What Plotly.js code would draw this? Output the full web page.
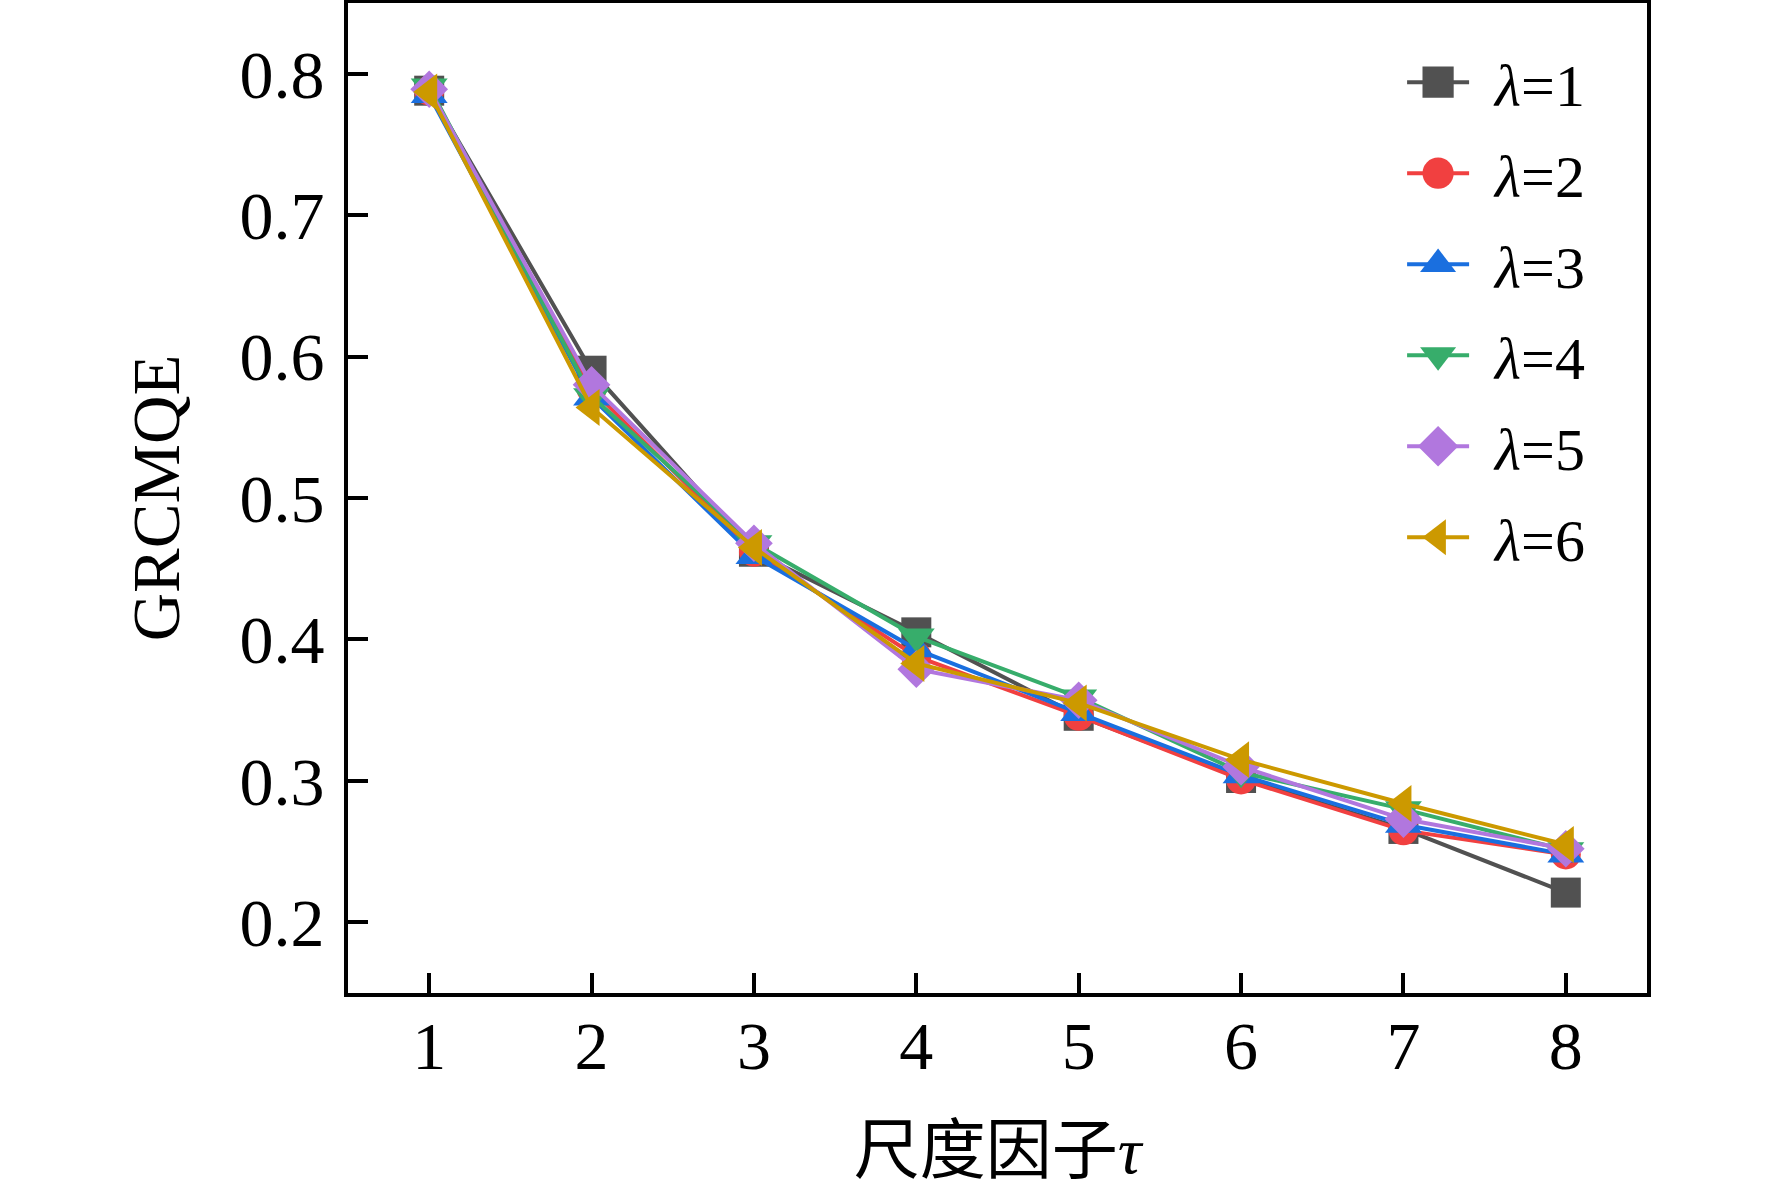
<!DOCTYPE html>
<html>
<head>
<meta charset="utf-8">
<script src="https://cdn.plot.ly/plotly-3.0.1.min.js"></script>
<style>
  html, body { margin: 0; padding: 0; background: #ffffff; }
  #chart { width: 1772px; height: 1187px; }
</style>
</head>
<body>
<div id="chart"></div>
<script>
// scale factor tau on the x axis
const scaleFactors = [1, 2, 3, 4, 5, 6, 7, 8];
const yTicks = [0.2, 0.3, 0.4, 0.5, 0.6, 0.7, 0.8];

// GRCMQE per lambda
const lambda1 = [0.788, 0.590, 0.462, 0.405, 0.346, 0.302, 0.266, 0.221];
const lambda2 = [0.788, 0.577, 0.462, 0.388, 0.346, 0.301, 0.265, 0.248];
const lambda3 = [0.785, 0.571, 0.459, 0.393, 0.348, 0.304, 0.269, 0.248];
const lambda4 = [0.791, 0.572, 0.468, 0.402, 0.359, 0.306, 0.280, 0.251];
const lambda5 = [0.789, 0.580, 0.468, 0.379, 0.357, 0.310, 0.273, 0.252];
const lambda6 = [0.787, 0.564, 0.465, 0.383, 0.355, 0.315, 0.284, 0.255];

const seriesNames = ["<i>λ</i>=1", "<i>λ</i>=2", "<i>λ</i>=3", "<i>λ</i>=4", "<i>λ</i>=5", "<i>λ</i>=6"];
const seriesValues = [lambda1, lambda2, lambda3, lambda4, lambda5, lambda6];
const seriesColors = ["#515151", "#f14040", "#1a6fdf", "#37ad6b", "#b177de", "#cc9900"];
const seriesSymbols = ["square", "circle", "triangle-up", "triangle-down", "diamond", "triangle-left"];

const serif = "Liberation Serif, Times New Roman, serif";
const chartEl = document.getElementById("chart");

const traces = seriesValues.map((values, i) => ({
  x: scaleFactors,
  y: values,
  type: "scatter",
  mode: "lines+markers",
  name: seriesNames[i],
  legendgroup: "g" + i,
  line: { color: seriesColors[i], width: 4 },
  marker: {
    color: seriesColors[i],
    symbol: seriesSymbols[i],
    size: seriesSymbols[i] === "diamond" ? 29 : (seriesSymbols[i].startsWith("triangle") ? 32 : 30),
    line: { width: 0 },
  },
}));

const layout = {
  width: 1772,
  height: 1187,
  margin: { l: 348, r: 125, t: 3, b: 194 },
  paper_bgcolor: "#ffffff",
  plot_bgcolor: "#ffffff",
  font: { family: serif, color: "#000000", size: 62 },
  showlegend: true,
  legend: {
    x: 0.7953,
    xanchor: "left",
    y: 0.966,
    yanchor: "top",
    bgcolor: "rgba(0,0,0,0)",
    borderwidth: 0,
    itemwidth: 104,
    tracegroupgap: 10,
    font: { family: serif, size: 60, color: "#000000" },
  },
  xaxis: {
    range: [0.5, 8.5],
    tickvals: scaleFactors,
    ticks: "inside",
    ticklen: 20,
    tickwidth: 4,
    tickcolor: "#000000",
    showline: true,
    linewidth: 4,
    linecolor: "#000000",
    mirror: true,
    showgrid: false,
    zeroline: false,
    tickfont: { family: serif, size: 68 },
    ticklabelstandoff: -10,
    title: {
      text: "尺度因子<i>τ</i>",
      font: { family: "Liberation Serif, Noto Sans CJK SC, serif", size: 66 },
      standoff: 46,
    },
  },
  yaxis: {
    range: [0.15, 0.85],
    tickvals: yTicks,
    tickformat: ".1f",
    ticks: "inside",
    ticklen: 20,
    tickwidth: 4,
    tickcolor: "#000000",
    showline: true,
    linewidth: 4,
    linecolor: "#000000",
    mirror: true,
    showgrid: false,
    zeroline: false,
    tickfont: { family: serif, size: 68 },
    ticklabelstandoff: 6,
    title: {
      text: "GRCMQE",
      font: { family: serif, size: 67 },
      standoff: 39,
    },
  },
};

// legend symbols in the figure are as large as the plotted markers
function enlargeLegendSymbols() {
  chartEl.querySelectorAll(".legend .traces").forEach((item) => {
    const pts = item.querySelector(".legendpoints path.scatterpts");
    let cx = 20;
    if (pts) {
      const t = pts.getAttribute("transform") || "";
      const m = t.match(/translate\(([-\d.]+)/);
      if (m) cx = parseFloat(m[1]);
      pts.setAttribute("transform", t + " scale(1.95)");
    }
    const line = item.querySelector(".legendlines path.js-line");
    if (line) {
      line.setAttribute("d", "M" + (cx - 31) + ",0h62");
    }
  });
}

Plotly.newPlot(chartEl, traces, layout, { staticPlot: true, displayModeBar: false })
  .then(enlargeLegendSymbols);
</script>
</body>
</html>
